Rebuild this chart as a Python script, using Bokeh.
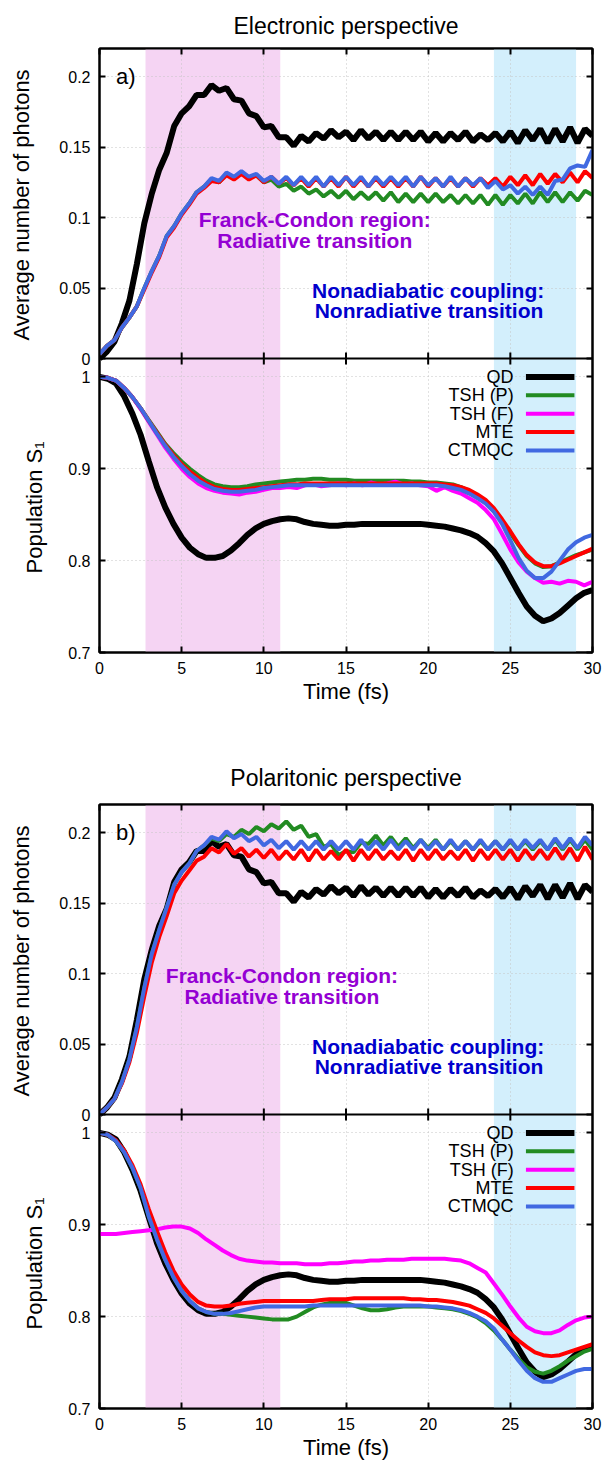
import numpy as np
from bokeh.plotting import figure
from bokeh.layouts import column
from bokeh.models import (BoxAnnotation, LinearAxis, FixedTicker, Range1d, ColumnDataSource,
                          CustomJSTickFormatter, Span, Title)
from bokeh.core.properties import value
from bokeh.embed import file_html
from bokeh.resources import INLINE

FONT = "Liberation Sans"

# ---------------- data ----------------
series_names = ["QD", "TSH (P)", "TSH (F)", "MTE", "CTMQC"]
series_colors = ["#000000", "#228b22", "#ff00ff", "#ff0000", "#4169e1"]
series_widths = [6, 4, 4, 4, 4]

x_ticks = [0, 5, 10, 15, 20, 25, 30]
photon_ticks = [0, 0.05, 0.1, 0.15, 0.2]
photon_tick_labels = ["0", "0.05", "0.1", "0.15", "0.2"]
pop_ticks = [0.7, 0.8, 0.9, 1.0]
pop_tick_labels = ["0.7", "0.8", "0.9", "1"]

fc_region = [2.8, 11.0]      # Franck-Condon region (fs)
nac_region = [24.0, 29.0]    # nonadiabatic coupling region (fs)

# time grids (fs)
t_photon = np.linspace(0, 30, 67)
t_pop = np.linspace(0, 30, 61)

# average number of photons (QD identical in both perspectives)
qd_photons = [0.000, 0.005, 0.012, 0.025, 0.041, 0.067, 0.096, 0.117, 0.134, 0.146,
              0.165, 0.174, 0.179, 0.187, 0.187, 0.194, 0.190, 0.192, 0.184, 0.183,
              0.174, 0.172, 0.164, 0.165, 0.157, 0.157, 0.151, 0.158, 0.154, 0.160,
              0.156, 0.162, 0.157, 0.161, 0.155, 0.162, 0.156, 0.161, 0.155, 0.161,
              0.155, 0.161, 0.155, 0.161, 0.154, 0.160, 0.154, 0.160, 0.155, 0.161,
              0.154, 0.159, 0.155, 0.160, 0.154, 0.161, 0.153, 0.162, 0.155, 0.163,
              0.153, 0.163, 0.154, 0.164, 0.153, 0.163, 0.158]

elec_tshp_photons = [0.003, 0.009, 0.013, 0.022, 0.029, 0.037, 0.050, 0.062, 0.073, 0.087,
                     0.094, 0.103, 0.110, 0.118, 0.122, 0.127, 0.125, 0.131, 0.128, 0.132,
                     0.128, 0.130, 0.125, 0.127, 0.122, 0.124, 0.119, 0.122, 0.117, 0.120,
                     0.115, 0.119, 0.114, 0.119, 0.113, 0.118, 0.113, 0.118, 0.112, 0.118,
                     0.111, 0.117, 0.111, 0.117, 0.111, 0.117, 0.111, 0.116, 0.110, 0.116,
                     0.110, 0.116, 0.109, 0.116, 0.109, 0.116, 0.110, 0.117, 0.110, 0.118,
                     0.111, 0.118, 0.111, 0.118, 0.112, 0.119, 0.116]
elec_mte_photons = [0.003, 0.009, 0.013, 0.022, 0.029, 0.037, 0.049, 0.061, 0.072, 0.086,
                    0.093, 0.102, 0.109, 0.117, 0.121, 0.126, 0.125, 0.130, 0.127, 0.131,
                    0.127, 0.130, 0.125, 0.129, 0.124, 0.128, 0.123, 0.128, 0.122, 0.128,
                    0.122, 0.128, 0.122, 0.129, 0.122, 0.128, 0.122, 0.128, 0.122, 0.128,
                    0.122, 0.128, 0.122, 0.129, 0.122, 0.128, 0.122, 0.128, 0.122, 0.128,
                    0.122, 0.128, 0.123, 0.128, 0.122, 0.129, 0.123, 0.130, 0.123, 0.131,
                    0.124, 0.131, 0.125, 0.132, 0.125, 0.133, 0.128]
elec_ctmqc_photons = [0.003, 0.009, 0.013, 0.022, 0.029, 0.037, 0.050, 0.062, 0.073, 0.087,
                      0.094, 0.103, 0.110, 0.118, 0.122, 0.128, 0.126, 0.132, 0.129, 0.133,
                      0.129, 0.131, 0.126, 0.129, 0.124, 0.129, 0.123, 0.129, 0.123, 0.129,
                      0.122, 0.129, 0.123, 0.129, 0.123, 0.129, 0.122, 0.129, 0.123, 0.129,
                      0.123, 0.129, 0.122, 0.129, 0.123, 0.128, 0.122, 0.129, 0.122, 0.128,
                      0.123, 0.128, 0.121, 0.126, 0.120, 0.123, 0.117, 0.122, 0.116, 0.122,
                      0.116, 0.126, 0.127, 0.135, 0.137, 0.136, 0.148]

pol_tshp_photons = [0.000, 0.005, 0.011, 0.023, 0.039, 0.062, 0.090, 0.114, 0.131, 0.147,
                    0.163, 0.172, 0.178, 0.187, 0.191, 0.196, 0.194, 0.199, 0.197, 0.202,
                    0.199, 0.204, 0.201, 0.206, 0.203, 0.208, 0.202, 0.205, 0.197, 0.199,
                    0.190, 0.192, 0.184, 0.187, 0.186, 0.193, 0.192, 0.198, 0.191, 0.197,
                    0.190, 0.196, 0.189, 0.195, 0.189, 0.195, 0.188, 0.194, 0.188, 0.194,
                    0.188, 0.194, 0.188, 0.194, 0.188, 0.194, 0.188, 0.194, 0.188, 0.194,
                    0.188, 0.195, 0.188, 0.195, 0.188, 0.195, 0.188]
pol_mte_photons = [0.000, 0.005, 0.011, 0.022, 0.037, 0.058, 0.084, 0.108, 0.126, 0.141,
                   0.157, 0.166, 0.173, 0.180, 0.183, 0.189, 0.186, 0.192, 0.185, 0.189,
                   0.183, 0.188, 0.182, 0.188, 0.181, 0.187, 0.181, 0.188, 0.180, 0.188,
                   0.181, 0.187, 0.181, 0.188, 0.180, 0.188, 0.181, 0.188, 0.181, 0.187,
                   0.181, 0.188, 0.180, 0.188, 0.181, 0.188, 0.181, 0.187, 0.181, 0.188,
                   0.180, 0.188, 0.181, 0.188, 0.181, 0.188, 0.180, 0.188, 0.181, 0.188,
                   0.181, 0.189, 0.181, 0.189, 0.180, 0.190, 0.181]
pol_ctmqc_photons = [0.000, 0.005, 0.011, 0.023, 0.039, 0.062, 0.090, 0.114, 0.131, 0.147,
                     0.163, 0.172, 0.178, 0.187, 0.191, 0.197, 0.195, 0.201, 0.196, 0.199,
                     0.194, 0.197, 0.191, 0.195, 0.189, 0.194, 0.188, 0.194, 0.188, 0.194,
                     0.188, 0.194, 0.188, 0.194, 0.188, 0.195, 0.188, 0.194, 0.188, 0.195,
                     0.188, 0.194, 0.188, 0.195, 0.188, 0.194, 0.188, 0.195, 0.188, 0.194,
                     0.188, 0.195, 0.188, 0.194, 0.188, 0.195, 0.188, 0.195, 0.189, 0.195,
                     0.188, 0.196, 0.189, 0.196, 0.189, 0.197, 0.191]

# population of S1 (QD identical in both perspectives)
qd_pop = [1.000, 0.998, 0.993, 0.979, 0.960, 0.937, 0.908, 0.880, 0.858, 0.840,
          0.825, 0.814, 0.807, 0.803, 0.803, 0.805, 0.811, 0.819, 0.828, 0.835,
          0.840, 0.843, 0.845, 0.846, 0.845, 0.842, 0.840, 0.839, 0.838, 0.838,
          0.839, 0.839, 0.840, 0.840, 0.840, 0.840, 0.840, 0.840, 0.840, 0.840,
          0.839, 0.838, 0.837, 0.835, 0.833, 0.830, 0.826, 0.819, 0.810, 0.797,
          0.781, 0.765, 0.750, 0.740, 0.734, 0.737, 0.743, 0.751, 0.759, 0.765,
          0.768]

elec_tshp_pop = [1.000, 0.999, 0.996, 0.988, 0.978, 0.966, 0.953, 0.940, 0.927, 0.917,
                 0.908, 0.900, 0.893, 0.887, 0.883, 0.881, 0.880, 0.880, 0.881, 0.883,
                 0.884, 0.885, 0.886, 0.887, 0.888, 0.888, 0.889, 0.889, 0.888, 0.888,
                 0.888, 0.887, 0.887, 0.887, 0.887, 0.887, 0.887, 0.887, 0.886, 0.886,
                 0.885, 0.885, 0.884, 0.883, 0.880, 0.876, 0.871, 0.864, 0.855, 0.843,
                 0.830, 0.817, 0.805, 0.797, 0.793, 0.794, 0.798, 0.802, 0.806, 0.809,
                 0.812]
elec_tshf_pop = [1.000, 0.999, 0.996, 0.988, 0.978, 0.965, 0.951, 0.937, 0.923, 0.911,
                 0.900, 0.891, 0.884, 0.879, 0.876, 0.874, 0.873, 0.872, 0.874, 0.875,
                 0.877, 0.879, 0.879, 0.880, 0.879, 0.882, 0.883, 0.881, 0.882, 0.884,
                 0.882, 0.884, 0.882, 0.885, 0.883, 0.884, 0.886, 0.883, 0.884, 0.882,
                 0.881, 0.876, 0.880, 0.876, 0.873, 0.868, 0.863, 0.855, 0.845, 0.829,
                 0.812, 0.798, 0.788, 0.781, 0.776, 0.777, 0.775, 0.778, 0.777, 0.773,
                 0.777]
elec_mte_pop = [1.000, 0.999, 0.996, 0.988, 0.978, 0.966, 0.952, 0.939, 0.926, 0.915,
                0.905, 0.897, 0.890, 0.884, 0.880, 0.878, 0.877, 0.877, 0.878, 0.879,
                0.880, 0.881, 0.882, 0.883, 0.883, 0.884, 0.884, 0.884, 0.884, 0.884,
                0.884, 0.884, 0.884, 0.884, 0.884, 0.884, 0.884, 0.884, 0.884, 0.884,
                0.884, 0.884, 0.883, 0.882, 0.880, 0.877, 0.872, 0.866, 0.857, 0.845,
                0.832, 0.818, 0.806, 0.798, 0.794, 0.794, 0.797, 0.801, 0.805, 0.809,
                0.813]
elec_ctmqc_pop = [1.000, 0.999, 0.996, 0.988, 0.978, 0.966, 0.952, 0.938, 0.925, 0.913,
                  0.903, 0.894, 0.887, 0.882, 0.878, 0.876, 0.875, 0.875, 0.876, 0.877,
                  0.879, 0.880, 0.881, 0.882, 0.882, 0.882, 0.882, 0.882, 0.882, 0.882,
                  0.882, 0.882, 0.882, 0.882, 0.882, 0.882, 0.882, 0.882, 0.882, 0.882,
                  0.882, 0.882, 0.881, 0.879, 0.877, 0.873, 0.868, 0.862, 0.853, 0.840,
                  0.822, 0.803, 0.789, 0.781, 0.781, 0.788, 0.800, 0.812, 0.820, 0.825,
                  0.828]

pol_tshp_pop = [1.000, 0.998, 0.991, 0.979, 0.962, 0.940, 0.909, 0.884, 0.862, 0.843,
                0.828, 0.817, 0.809, 0.805, 0.803, 0.803, 0.802, 0.801, 0.800, 0.799,
                0.798, 0.797, 0.797, 0.797, 0.800, 0.805, 0.810, 0.813, 0.815, 0.816,
                0.815, 0.812, 0.809, 0.807, 0.807, 0.808, 0.810, 0.811, 0.811, 0.811,
                0.811, 0.810, 0.809, 0.808, 0.806, 0.803, 0.799, 0.793, 0.785, 0.775,
                0.764, 0.754, 0.745, 0.740, 0.738, 0.741, 0.746, 0.752, 0.757, 0.762,
                0.765]
pol_tshf_pop = [0.890, 0.890, 0.890, 0.891, 0.892, 0.893, 0.894, 0.895, 0.897, 0.898,
                0.898, 0.896, 0.891, 0.884, 0.878, 0.872, 0.867, 0.863, 0.861, 0.860,
                0.859, 0.859, 0.858, 0.858, 0.858, 0.857, 0.857, 0.857, 0.858, 0.858,
                0.859, 0.860, 0.860, 0.861, 0.861, 0.862, 0.862, 0.862, 0.863, 0.863,
                0.863, 0.863, 0.863, 0.862, 0.861, 0.858, 0.853, 0.848, 0.836, 0.824,
                0.811, 0.799, 0.789, 0.784, 0.782, 0.782, 0.785, 0.791, 0.796, 0.799,
                0.800]
pol_mte_pop = [1.000, 0.998, 0.992, 0.981, 0.965, 0.944, 0.917, 0.893, 0.870, 0.850,
               0.835, 0.824, 0.816, 0.812, 0.811, 0.811, 0.812, 0.814, 0.815, 0.816,
               0.817, 0.817, 0.817, 0.817, 0.817, 0.817, 0.817, 0.818, 0.819, 0.819,
               0.819, 0.820, 0.820, 0.820, 0.820, 0.820, 0.820, 0.820, 0.819, 0.819,
               0.818, 0.818, 0.817, 0.816, 0.814, 0.812, 0.808, 0.804, 0.798, 0.790,
               0.782, 0.774, 0.767, 0.761, 0.758, 0.757, 0.758, 0.761, 0.764, 0.767,
               0.770]
pol_ctmqc_pop = [1.000, 0.998, 0.991, 0.979, 0.962, 0.940, 0.909, 0.884, 0.862, 0.843,
                 0.828, 0.817, 0.809, 0.805, 0.803, 0.803, 0.804, 0.806, 0.808, 0.810,
                 0.811, 0.811, 0.811, 0.811, 0.811, 0.811, 0.812, 0.812, 0.812, 0.812,
                 0.812, 0.812, 0.812, 0.812, 0.812, 0.812, 0.812, 0.812, 0.812, 0.812,
                 0.811, 0.811, 0.810, 0.809, 0.807, 0.804, 0.800, 0.795, 0.787, 0.775,
                 0.764, 0.752, 0.741, 0.733, 0.729, 0.729, 0.733, 0.737, 0.741, 0.743,
                 0.743]

# ---------------- layout constants ----------------
W = 614
LEFT, RIGHT = 99, 22
PH_H, POP_H = 310, 294            # pixel heights of the photon / population panels
PH_MAX = 0.22
POP_MIN, POP_MAX = 0.7, 1.02
POP_PER_PX = (POP_MAX - POP_MIN) / POP_H
PH_PER_PX = PH_MAX / PH_H
# the population scale is the main y scale, extended upward over the photon panel
MAIN_TOP = POP_MAX + PH_H * POP_PER_PX
PH_START = -POP_H * PH_PER_PX
# distance (px) from the frame bottom to the start of each vertical y-axis title
PH_LABEL_OFFSET = 312
POP_LABEL_OFFSET = 79


def ph_to_main(v):
    return POP_MAX + v * (MAIN_TOP - POP_MAX) / PH_MAX


def style_axis(ax, ticks, labels):
    ax.ticker = FixedTicker(ticks=ticks)
    ax.major_tick_in = 6
    ax.major_tick_out = 0
    ax.minor_tick_in = 0
    ax.minor_tick_out = 0
    ax.major_tick_line_width = 2
    ax.major_tick_line_color = "black"
    ax.axis_line_width = 2
    ax.axis_line_color = "black"
    ax.major_label_text_font = FONT
    if labels:
        ax.major_label_text_color = "black"
        ax.major_label_text_font_size = "16px"
        ax.major_label_standoff = 9
    else:
        ax.major_label_text_color = None
        ax.major_label_text_font_size = "1px"
        ax.major_label_standoff = 0


def make_panel(height, top, bottom, title, title_standoff, tag, photon_series, pop_series,
               fc_x):
    p = figure(width=W, height=height, x_range=Range1d(0, 30),
               y_range=Range1d(POP_MIN, MAIN_TOP),
               output_backend="svg", toolbar_location=None,
               min_border_left=LEFT, min_border_right=RIGHT,
               min_border_top=top, min_border_bottom=bottom,
               background_fill_color="white", border_fill_color="white")
    p.extra_y_ranges = {"ph": Range1d(PH_START, PH_MAX)}
    p.outline_line_color = "black"
    p.outline_line_width = 2

    # main title
    p.title.text = title
    p.title.align = "center"
    p.title.text_font = FONT
    p.title.text_font_size = "23px"
    p.title.text_font_style = "normal"
    p.title.text_color = "black"
    p.title.standoff = title_standoff

    # axes: left carries both panels' tick labels
    ytick_pos = pop_ticks + [ph_to_main(v) for v in photon_ticks]
    ytick_lab = pop_tick_labels + photon_tick_labels
    xb = p.below[0]
    yl = p.left[0]
    style_axis(xb, x_ticks, True)
    style_axis(yl, ytick_pos, True)
    yl.formatter = CustomJSTickFormatter(args=dict(pos=ytick_pos, lab=ytick_lab), code="""
        let best = 0;
        for (let i = 0; i < pos.length; i++) {
            if (Math.abs(pos[i] - tick) < Math.abs(pos[best] - tick)) best = i;
        }
        return lab[best];
    """)
    xb.axis_label = "Time (fs)"
    xb.axis_label_text_font = FONT
    xb.axis_label_text_font_size = "22px"
    xb.axis_label_text_font_style = "normal"
    xb.axis_label_text_color = "black"
    xb.axis_label_standoff = 2
    top_ax = LinearAxis()
    right_ax = LinearAxis()
    p.add_layout(top_ax, "above")
    p.add_layout(right_ax, "right")
    style_axis(top_ax, x_ticks, False)
    style_axis(right_ax, ytick_pos, False)

    # y-axis titles of the two stacked panels
    p.add_layout(Title(text="Population S\u2081", align="left", offset=POP_LABEL_OFFSET,
                       standoff=19, text_font=FONT, text_font_size="22px",
                       text_font_style="normal", text_color="black"), "left")
    p.add_layout(Title(text="Average number of photons", align="left",
                       offset=PH_LABEL_OFFSET, standoff=-47, text_font=FONT,
                       text_font_size="22px", text_font_style="normal",
                       text_color="black"), "left")

    p.grid.grid_line_color = "#c4c4c4"
    p.grid.grid_line_dash = "1 3"
    p.grid.grid_line_width = 1

    for reg, col in ((fc_region, "#f5d4f3"), (nac_region, "#d3effc")):
        p.add_layout(BoxAnnotation(left=reg[0], right=reg[1], fill_color=col, fill_alpha=1.0,
                                   line_color=None, level="image"))

    # boundary between the two panels, with inward ticks on both sides
    p.add_layout(Span(location=POP_MAX, dimension="width", line_color="black", line_width=2))
    d = 6 * POP_PER_PX
    inner = x_ticks[1:-1]
    p.segment(x0=inner, x1=inner, y0=[POP_MAX - d] * len(inner), y1=[POP_MAX + d] * len(inner),
              line_color="black", line_width=2)

    # photon panel
    for name, ys in photon_series:
        i = series_names.index(name)
        p.line(t_photon, ys, line_color=series_colors[i], line_width=series_widths[i],
               y_range_name="ph")
    p.text(x=[1.0], y=[0.2], text=[tag], text_font=value(FONT), text_font_size="22px",
           text_align="left", text_baseline="middle", text_color="black", y_range_name="ph")
    p.text(x=[fc_x, fc_x], y=[0.0987, 0.0838],
           text=["Franck-Condon region:", "Radiative transition"],
           text_font=value(FONT), text_font_size="21px", text_font_style="bold",
           text_align="center", text_baseline="middle", text_color="#9400d3",
           y_range_name="ph")
    p.text(x=[20.0, 20.05], y=[0.0485, 0.0339],
           text=["Nonadiabatic coupling:", "Nonradiative transition"],
           text_font=value(FONT), text_font_size="21px", text_font_style="bold",
           text_align="center", text_baseline="middle", text_color="#0000cd",
           y_range_name="ph")

    # population panel
    for name, ys in pop_series:
        i = series_names.index(name)
        p.line(t_pop, ys, line_color=series_colors[i], line_width=series_widths[i])
    rows = [1.0, 0.98, 0.96, 0.94, 0.92]
    p.text(x=[25.2] * 5, y=rows, text=series_names, text_font=value(FONT),
           text_font_size="18px", text_align="right", text_baseline="middle",
           text_color="black")
    src = ColumnDataSource(dict(x0=[25.95] * 5, x1=[28.9] * 5, y=rows,
                                c=series_colors, w=series_widths))
    p.segment(x0="x0", y0="y", x1="x1", y1="y", line_color="c", line_width="w", source=src)
    return p


pA = make_panel(712, 48, 60, "Electronic perspective", 19, "a)",
                [("QD", qd_photons), ("TSH (P)", elec_tshp_photons),
                 ("MTE", elec_mte_photons), ("CTMQC", elec_ctmqc_photons)],
                [("QD", qd_pop), ("TSH (P)", elec_tshp_pop), ("TSH (F)", elec_tshf_pop),
                 ("MTE", elec_mte_pop), ("CTMQC", elec_ctmqc_pop)], 13.1)
pB = make_panel(751, 92, 55, "Polaritonic perspective", 28, "b)",
                [("QD", qd_photons), ("TSH (P)", pol_tshp_photons),
                 ("MTE", pol_mte_photons), ("CTMQC", pol_ctmqc_photons)],
                [("QD", qd_pop), ("TSH (P)", pol_tshp_pop), ("TSH (F)", pol_tshf_pop),
                 ("MTE", pol_mte_pop), ("CTMQC", pol_ctmqc_pop)], 11.1)

layout = column(pA, pB, spacing=0)
open("out.html", "w").write(file_html(layout, INLINE))
